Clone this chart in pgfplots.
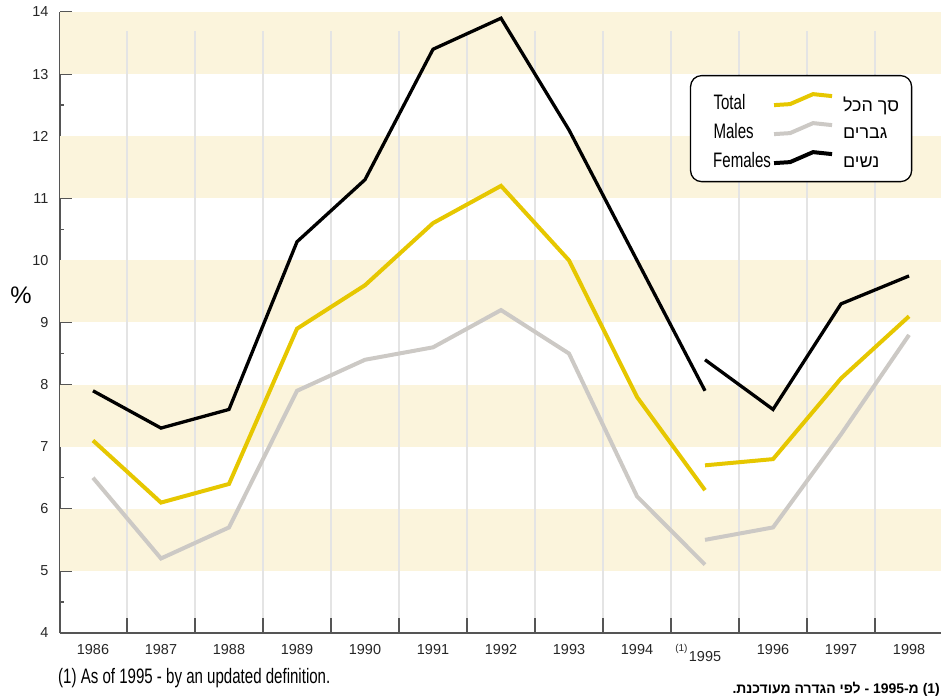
\documentclass[border=0pt]{standalone}
\usepackage{pgfplots}
\pgfplotsset{compat=1.18}
\usetikzlibrary{calc}
\usepackage{fontspec}
\setmainfont{Liberation Sans}
\newfontfamily\nar[FakeStretch=0.72]{Liberation Sans}
\newfontfamily\heb[Script=Hebrew]{Liberation Sans}
\TeXXeTstate=1
\definecolor{totc}{HTML}{E6C700}
\definecolor{malc}{HTML}{CCC9C5}
\definecolor{band}{HTML}{FBF4DC}
\definecolor{gridc}{HTML}{E4E4E4}
\definecolor{axc}{HTML}{555555}
\pgfplotsset{
  legimg/.style n args={3}{legend image code/.code={
    \path[draw=none, fill=none] (-71bp,-9bp) rectangle (58bp,20bp);
    \draw[#1, line width=#3, sharp corners] (0bp,0bp) -- (16bp,1bp) -- (39bp,11bp) -- (58bp,9bp);
    \node[draw=none, fill=none, anchor=base west, inner sep=0pt, font=\nar\fontsize{21}{21}\selectfont, text=black] at (-62.5bp,-4bp) {#2};
  }}
}
\begin{document}
\begin{tikzpicture}
\begin{axis}[
  scale only axis, width=881bp, height=621bp,
  xmin=-0.485, xmax=12.47, ymin=4, ymax=14,
  axis x line*=bottom, axis y line*=left,
  axis line style={-, draw=axc, line width=1.3bp},
  xtick={0,...,12},
  xticklabels={1986,1987,1988,1989,1990,1991,1992,1993,1994,{\llap{\raisebox{10bp}{\fontsize{10}{10}\selectfont(1)}\hspace{1.5bp}}1995},1996,1997,1998},
  xtick style={draw=none},
  ytick={4,...,14}, minor ytick={4.5,5.5,...,13.5},
  ytick style={draw=axc, line width=1.3bp},
  tick align=inside,
  major tick length=12bp, minor tick length=4bp,
  /pgf/number format/assume math mode=true,
  tick label style={font=\fontsize{14.5}{14.5}\selectfont, text=black!85},
  xticklabel style={yshift=-8bp},
  yticklabel style={xshift=-8bp},
  ylabel={\%},
  every axis y label/.style={at={(rel axis cs:0,0.5443)}, anchor=center, xshift=-39bp, font=\fontsize{24}{24}\selectfont},
  legend style={at={(0.715,0.8986)}, anchor=north west, draw=black, line width=1.3bp,
    rounded corners=11bp, inner xsep=12.5bp, inner ysep=9.5bp, row sep=0pt, column sep=9bp,
    font=\heb\fontsize{18}{18}\selectfont, cells={anchor=base west}, nodes={inner sep=0pt}},
  legend cell align=left,
  clip=false,
]
% background bands
\fill[band] (rel axis cs:0,0.9) rectangle (rel axis cs:1,1);
\fill[band] (rel axis cs:0,0.7) rectangle (rel axis cs:1,0.8);
\fill[band] (rel axis cs:0,0.5) rectangle (rel axis cs:1,0.6);
\fill[band] (rel axis cs:0,0.3) rectangle (rel axis cs:1,0.4);
\fill[band] (rel axis cs:0,0.1) rectangle (rel axis cs:1,0.2);
% vertical separators between years, with their ticks
\pgfplotsinvokeforeach{0.5,1.5,2.5,3.5,4.5,5.5,6.5,7.5,8.5,9.5,10.5,11.5}{
  \draw[gridc, line width=1.3bp] (axis cs:#1,4) -- (axis cs:#1,13.7);
  \draw[axc, line width=1.3bp] (axis cs:#1,4) -- (axis cs:#1,4.24);
}
% series up to 1995 (old definition)
\addplot[totc, line width=4bp, legimg={totc}{Total}{4bp}] coordinates {
 (0,7.1) (1,6.1) (2,6.4) (3,8.9) (4,9.6) (5,10.6) (6,11.2) (7,10.0) (8,7.8) (9,6.3)};
\addlegendentry{\beginR סך הכל\endR}
\addplot[malc, line width=4bp, legimg={malc}{Males}{4bp}] coordinates {
 (0,6.5) (1,5.2) (2,5.7) (3,7.9) (4,8.4) (5,8.6) (6,9.2) (7,8.5) (8,6.2) (9,5.1)};
\addlegendentry{\beginR גברים\endR}
\addplot[black, line width=3.3bp, legimg={black}{Females}{4bp}] coordinates {
 (0,7.9) (1,7.3) (2,7.6) (3,10.3) (4,11.3) (5,13.4) (6,13.9) (7,12.1) (8,10.0) (9,7.9)};
\addlegendentry{\beginR נשים\endR}
% series from 1995 (updated definition)
\addplot[totc, line width=4bp, forget plot] coordinates {(9,6.7) (10,6.8) (11,8.1) (12,9.1)};
\addplot[malc, line width=4bp, forget plot] coordinates {(9,5.5) (10,5.7) (11,7.2) (12,8.8)};
\addplot[black, line width=3.3bp, forget plot] coordinates {(9,8.4) (10,7.6) (11,9.3) (12,9.75)};
% footnotes
\node[anchor=base west, inner sep=0pt, font=\nar\fontsize{21}{21}\selectfont] at ($(rel axis cs:0,0)+(-2bp,-50bp)$) {(1) As of 1995 - by an updated definition.};
\node[anchor=base east, inner sep=0pt, font=\heb\bfseries\fontsize{14}{14}\selectfont] at ($(rel axis cs:1,0)+(-1bp,-60bp)$) {\beginR\beginL(1)\endL{} מ-\beginL1995\endL{} - לפי הגדרה מעודכנת.\endR};
\end{axis}
\pgfresetboundingbox
\path ($(current axis.south west)+(-60bp,-65bp)$) rectangle ($(current axis.north east)+(0bp,12bp)$);
\end{tikzpicture}
\end{document}
